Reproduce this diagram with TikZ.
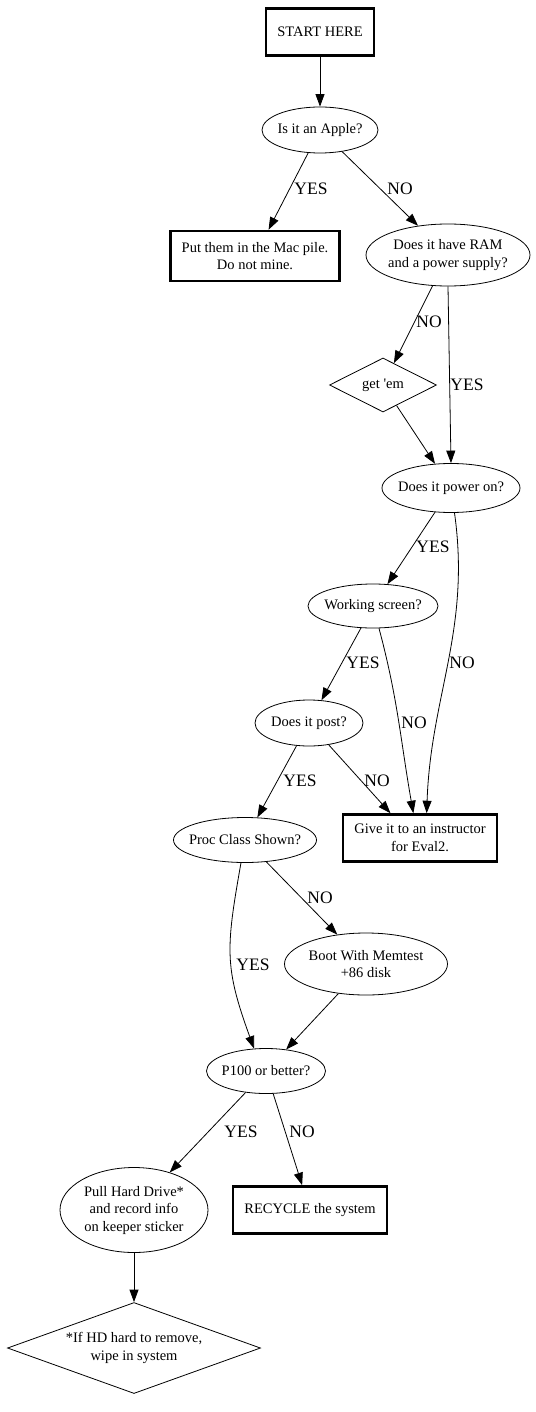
\documentclass[tikz,border=0pt]{standalone}
\usepackage{fontspec}
\setmainfont{Liberation Serif}
\usetikzlibrary{arrows.meta,shapes.geometric}

\tikzset{
  every node/.style={font=\fontsize{14.5}{17.5}\selectfont,align=center},
  stopbox/.style={draw,rectangle,line width=2.6pt,inner xsep=11.5pt,minimum height=47pt},
  qell/.style={draw,ellipse,line width=0.8pt,inner xsep=-60pt,inner ysep=-30pt},
  dia/.style={draw,diamond,line width=0.8pt,inner xsep=-80pt,inner ysep=-40pt},
  lbl/.style={font=\fontsize{17.5}{20}\selectfont,inner sep=0pt},
  arr/.style={line width=0.8pt,-{Triangle[length=12.5pt,width=9pt]}}
}

\begin{document}
\begin{tikzpicture}[x=1pt,y=-1pt]
\useasboundingbox (0,0) rectangle (535,1412);

\node[stopbox] (start) at (320,32) {START HERE};
\node[qell,minimum width=116pt,minimum height=46pt] (apple) at (320,130) {Is it an Apple?};
\node[stopbox,minimum height=50pt] (mac) at (255,256) {Put them in the Mac pile.\\Do not mine.};
\node[qell,minimum width=164pt,minimum height=62pt] (ram) at (448,255) {Does it have RAM\\and a power supply?};
\node[dia,minimum width=107pt,minimum height=54pt] (getem) at (383,385) {get \textquotesingle em};
\node[qell,minimum width=138pt,minimum height=49pt] (power) at (451,488) {Does it power on?};
\node[qell,minimum width=130pt,minimum height=44pt] (screen) at (373,606) {Working screen?};
\node[qell,minimum width=108pt,minimum height=46pt] (post) at (309,723) {Does it post?};
\node[qell,minimum width=143pt,minimum height=45pt] (proc) at (245,840) {Proc Class Shown?};
\node[stopbox] (instr) at (420,838) {Give it to an instructor\\for Eval2.};
\node[qell,minimum width=163pt,minimum height=62pt] (boot) at (366,964) {Boot With Memtest\\+86 disk};
\node[qell,minimum width=119pt,minimum height=45pt] (p100) at (266,1071) {P100 or better?};
\node[qell,minimum width=148pt,minimum height=85pt] (pull) at (134,1210) {Pull Hard Drive*\\and record info\\on keeper sticker};
\node[stopbox] (recycle) at (310,1210) {RECYCLE the system};
\node[dia,minimum width=253pt,minimum height=91pt] (wipe) at (134,1348) {*If HD hard to remove,\\wipe in system};

% edges
\draw[arr] (start) -- (apple);
\draw[arr] (apple) -- (mac);
\draw[arr] (apple) -- (ram);
\draw[arr] (ram) -- (getem);
\draw[arr] (ram.south) -- (power.north);
\draw[arr] (getem) -- (power);
\draw[arr] (power) -- (screen);
\draw[arr] (power) to[out=-82,in=88] (instr.75);
\draw[arr] (screen) to[out=-75,in=100] (instr.105);
\draw[arr] (screen) -- (post);
\draw[arr] (post) -- (proc);
\draw[arr] (post) -- (instr.140);
\draw[arr] (proc) to[out=-100,in=110,looseness=1.2] (p100.118);
\draw[arr] (proc) -- (boot);
\draw[arr] (boot) -- (p100);
\draw[arr] (p100) -- (pull);
\draw[arr] (p100) -- (recycle);
\draw[arr] (pull) -- (wipe);

% edge labels
\foreach \n/\x/\y/\t in {l1/311/189/YES, l2/400/189/NO, l3/429/322/NO, l4/467/385/YES,
  l5/433/547/YES, l6/462/663/NO, l7/363/663/YES, l8/414/723/NO, l9/300/781/YES,
  l10/377/781/NO, l11/320/898/NO, l12/253/965/YES, l13/241/1132/YES, l14/302/1132/NO}
  \node[lbl] (\n) at (\x,\y) {\t};
\end{tikzpicture}
\end{document}
